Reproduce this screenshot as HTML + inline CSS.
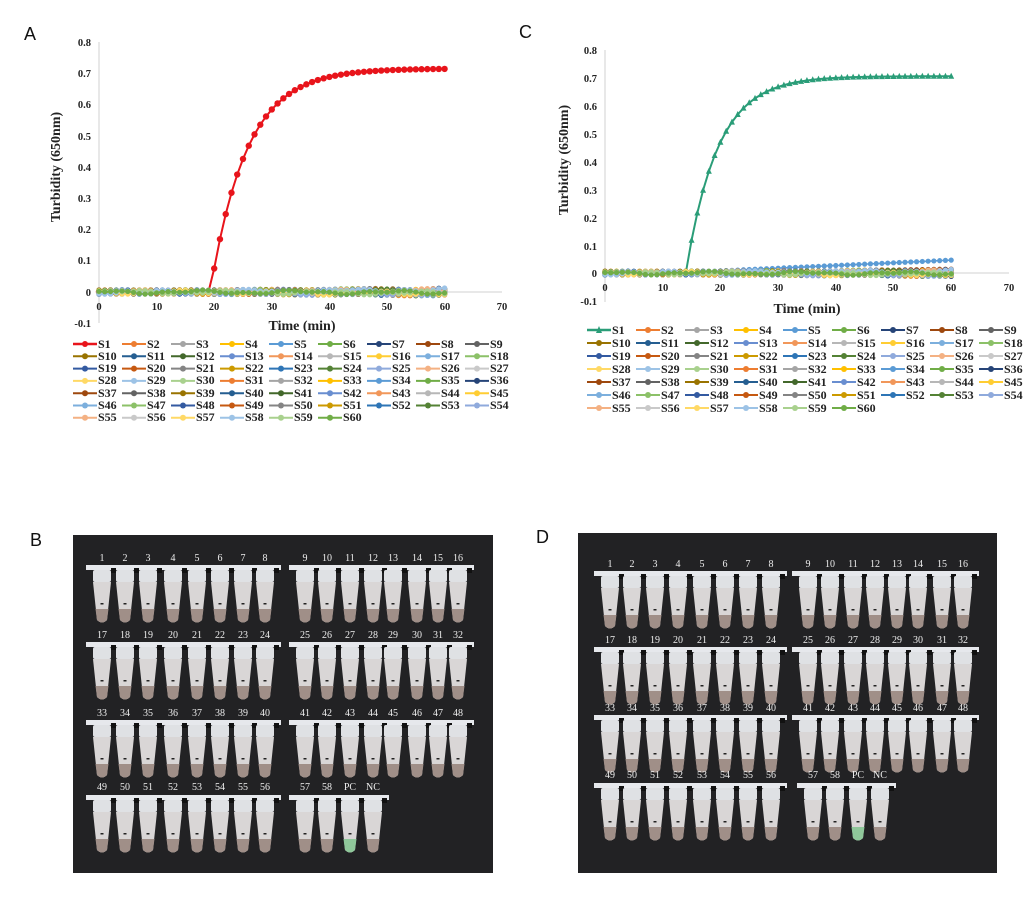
<!DOCTYPE html>
<html><head><meta charset="utf-8"><style>
body{margin:0;background:#fff}
svg{display:block}
.t{font-family:"Liberation Serif",serif;font-weight:bold;font-size:10.5px;fill:#222}
.lg{font-family:"Liberation Serif",serif;font-weight:bold;font-size:12px;fill:#222}
.pl{font-family:"Liberation Sans",sans-serif;font-size:18px;fill:#111}
.tn{font-family:"Liberation Serif",serif;font-size:10px;fill:#eee}
</style></head><body>
<svg id="s" width="1024" height="904" xmlns="http://www.w3.org/2000/svg">
<rect width="1024" height="904" fill="#fff"/>
<text class="pl" x="24" y="40">A</text>
<text class="pl" x="519" y="38">C</text>
<text class="pl" x="30" y="546">B</text>
<text class="pl" x="536" y="543">D</text>

<g stroke="#d0d0d0" stroke-width="1"><line x1="99" y1="42" x2="99" y2="323"/><line x1="99" y1="292" x2="502" y2="292"/></g>
<g class="t" text-anchor="end">
<text x="91" y="46">0.8</text><text x="91" y="77">0.7</text><text x="91" y="108">0.6</text><text x="91" y="140">0.5</text><text x="91" y="171">0.4</text><text x="91" y="202">0.3</text><text x="91" y="233">0.2</text><text x="91" y="264">0.1</text><text x="91" y="296">0</text><text x="91" y="327">-0.1</text></g>
<g class="t" text-anchor="middle">
<text x="99" y="310">0</text><text x="157" y="310">10</text><text x="214" y="310">20</text><text x="272" y="310">30</text><text x="330" y="310">40</text><text x="387" y="310">50</text><text x="445" y="310">60</text><text x="502" y="310">70</text></g>
<text class="t" style="font-size:14px" x="302" y="330" text-anchor="middle">Time (min)</text>
<text class="t" style="font-size:14px" transform="translate(60,167) rotate(-90)" text-anchor="middle">Turbidity (650nm)</text>

<g stroke="#d0d0d0" stroke-width="1"><line x1="605" y1="50" x2="605" y2="302"/><line x1="605" y1="273" x2="1009" y2="273"/></g>
<g class="t" text-anchor="end">
<text x="597" y="54">0.8</text><text x="597" y="82">0.7</text><text x="597" y="110">0.6</text><text x="597" y="138">0.5</text><text x="597" y="166">0.4</text><text x="597" y="194">0.3</text><text x="597" y="222">0.2</text><text x="597" y="250">0.1</text><text x="597" y="277">0</text><text x="597" y="305">-0.1</text></g>
<g class="t" text-anchor="middle">
<text x="605" y="291">0</text><text x="663" y="291">10</text><text x="720" y="291">20</text><text x="778" y="291">30</text><text x="836" y="291">40</text><text x="893" y="291">50</text><text x="951" y="291">60</text><text x="1009" y="291">70</text></g>
<text class="t" style="font-size:14px" x="807" y="313" text-anchor="middle">Time (min)</text>
<text class="t" style="font-size:14px" transform="translate(568,160) rotate(-90)" text-anchor="middle">Turbidity (650nm)</text>

<g id="curves"></g>
<g id="legmk"></g>

<g class="lg">
<text x="98" y="348">S1</text><text x="147" y="348">S2</text><text x="196" y="348">S3</text><text x="245" y="348">S4</text><text x="294" y="348">S5</text><text x="343" y="348">S6</text><text x="392" y="348">S7</text><text x="441" y="348">S8</text><text x="490" y="348">S9</text>
<text x="98" y="360">S10</text><text x="147" y="360">S11</text><text x="196" y="360">S12</text><text x="245" y="360">S13</text><text x="294" y="360">S14</text><text x="343" y="360">S15</text><text x="392" y="360">S16</text><text x="441" y="360">S17</text><text x="490" y="360">S18</text>
<text x="98" y="372">S19</text><text x="147" y="372">S20</text><text x="196" y="372">S21</text><text x="245" y="372">S22</text><text x="294" y="372">S23</text><text x="343" y="372">S24</text><text x="392" y="372">S25</text><text x="441" y="372">S26</text><text x="490" y="372">S27</text>
<text x="98" y="384">S28</text><text x="147" y="384">S29</text><text x="196" y="384">S30</text><text x="245" y="384">S31</text><text x="294" y="384">S32</text><text x="343" y="384">S33</text><text x="392" y="384">S34</text><text x="441" y="384">S35</text><text x="490" y="384">S36</text>
<text x="98" y="397">S37</text><text x="147" y="397">S38</text><text x="196" y="397">S39</text><text x="245" y="397">S40</text><text x="294" y="397">S41</text><text x="343" y="397">S42</text><text x="392" y="397">S43</text><text x="441" y="397">S44</text><text x="490" y="397">S45</text>
<text x="98" y="409">S46</text><text x="147" y="409">S47</text><text x="196" y="409">S48</text><text x="245" y="409">S49</text><text x="294" y="409">S50</text><text x="343" y="409">S51</text><text x="392" y="409">S52</text><text x="441" y="409">S53</text><text x="490" y="409">S54</text>
<text x="98" y="421">S55</text><text x="147" y="421">S56</text><text x="196" y="421">S57</text><text x="245" y="421">S58</text><text x="294" y="421">S59</text><text x="343" y="421">S60</text>
</g>
<g class="lg">
<text x="612" y="334">S1</text><text x="661" y="334">S2</text><text x="710" y="334">S3</text><text x="759" y="334">S4</text><text x="808" y="334">S5</text><text x="857" y="334">S6</text><text x="906" y="334">S7</text><text x="955" y="334">S8</text><text x="1004" y="334">S9</text>
<text x="612" y="347">S10</text><text x="661" y="347">S11</text><text x="710" y="347">S12</text><text x="759" y="347">S13</text><text x="808" y="347">S14</text><text x="857" y="347">S15</text><text x="906" y="347">S16</text><text x="955" y="347">S17</text><text x="1004" y="347">S18</text>
<text x="612" y="360">S19</text><text x="661" y="360">S20</text><text x="710" y="360">S21</text><text x="759" y="360">S22</text><text x="808" y="360">S23</text><text x="857" y="360">S24</text><text x="906" y="360">S25</text><text x="955" y="360">S26</text><text x="1004" y="360">S27</text>
<text x="612" y="373">S28</text><text x="661" y="373">S29</text><text x="710" y="373">S30</text><text x="759" y="373">S31</text><text x="808" y="373">S32</text><text x="857" y="373">S33</text><text x="906" y="373">S34</text><text x="955" y="373">S35</text><text x="1004" y="373">S36</text>
<text x="612" y="386">S37</text><text x="661" y="386">S38</text><text x="710" y="386">S39</text><text x="759" y="386">S40</text><text x="808" y="386">S41</text><text x="857" y="386">S42</text><text x="906" y="386">S43</text><text x="955" y="386">S44</text><text x="1004" y="386">S45</text>
<text x="612" y="399">S46</text><text x="661" y="399">S47</text><text x="710" y="399">S48</text><text x="759" y="399">S49</text><text x="808" y="399">S50</text><text x="857" y="399">S51</text><text x="906" y="399">S52</text><text x="955" y="399">S53</text><text x="1004" y="399">S54</text>
<text x="612" y="412">S55</text><text x="661" y="412">S56</text><text x="710" y="412">S57</text><text x="759" y="412">S58</text><text x="808" y="412">S59</text><text x="857" y="412">S60</text>
</g>

<rect x="73" y="535" width="420" height="338" fill="#222224"/>
<rect x="578" y="533" width="419" height="340" fill="#222224"/>
<g id="tubes"></g>
<g class="tn" text-anchor="middle">
<text x="102" y="561">1</text><text x="125" y="561">2</text><text x="148" y="561">3</text><text x="173" y="561">4</text><text x="197" y="561">5</text><text x="220" y="561">6</text><text x="243" y="561">7</text><text x="265" y="561">8</text>
<text x="305" y="561">9</text><text x="327" y="561">10</text><text x="350" y="561">11</text><text x="373" y="561">12</text><text x="393" y="561">13</text><text x="417" y="561">14</text><text x="438" y="561">15</text><text x="458" y="561">16</text>
<text x="102" y="638">17</text><text x="125" y="638">18</text><text x="148" y="638">19</text><text x="173" y="638">20</text><text x="197" y="638">21</text><text x="220" y="638">22</text><text x="243" y="638">23</text><text x="265" y="638">24</text>
<text x="305" y="638">25</text><text x="327" y="638">26</text><text x="350" y="638">27</text><text x="373" y="638">28</text><text x="393" y="638">29</text><text x="417" y="638">30</text><text x="438" y="638">31</text><text x="458" y="638">32</text>
<text x="102" y="716">33</text><text x="125" y="716">34</text><text x="148" y="716">35</text><text x="173" y="716">36</text><text x="197" y="716">37</text><text x="220" y="716">38</text><text x="243" y="716">39</text><text x="265" y="716">40</text>
<text x="305" y="716">41</text><text x="327" y="716">42</text><text x="350" y="716">43</text><text x="373" y="716">44</text><text x="393" y="716">45</text><text x="417" y="716">46</text><text x="438" y="716">47</text><text x="458" y="716">48</text>
<text x="102" y="790">49</text><text x="125" y="790">50</text><text x="148" y="790">51</text><text x="173" y="790">52</text><text x="197" y="790">53</text><text x="220" y="790">54</text><text x="243" y="790">55</text><text x="265" y="790">56</text>
<text x="305" y="790">57</text><text x="327" y="790">58</text><text x="350" y="790">PC</text><text x="373" y="790">NC</text>

<text x="610" y="567">1</text><text x="632" y="567">2</text><text x="655" y="567">3</text><text x="678" y="567">4</text><text x="702" y="567">5</text><text x="725" y="567">6</text><text x="748" y="567">7</text><text x="771" y="567">8</text>
<text x="808" y="567">9</text><text x="830" y="567">10</text><text x="853" y="567">11</text><text x="875" y="567">12</text><text x="897" y="567">13</text><text x="918" y="567">14</text><text x="942" y="567">15</text><text x="963" y="567">16</text>
<text x="610" y="643">17</text><text x="632" y="643">18</text><text x="655" y="643">19</text><text x="678" y="643">20</text><text x="702" y="643">21</text><text x="725" y="643">22</text><text x="748" y="643">23</text><text x="771" y="643">24</text>
<text x="808" y="643">25</text><text x="830" y="643">26</text><text x="853" y="643">27</text><text x="875" y="643">28</text><text x="897" y="643">29</text><text x="918" y="643">30</text><text x="942" y="643">31</text><text x="963" y="643">32</text>
<text x="610" y="711">33</text><text x="632" y="711">34</text><text x="655" y="711">35</text><text x="678" y="711">36</text><text x="702" y="711">37</text><text x="725" y="711">38</text><text x="748" y="711">39</text><text x="771" y="711">40</text>
<text x="808" y="711">41</text><text x="830" y="711">42</text><text x="853" y="711">43</text><text x="875" y="711">44</text><text x="897" y="711">45</text><text x="918" y="711">46</text><text x="942" y="711">47</text><text x="963" y="711">48</text>
<text x="610" y="778">49</text><text x="632" y="778">50</text><text x="655" y="778">51</text><text x="678" y="778">52</text><text x="702" y="778">53</text><text x="725" y="778">54</text><text x="748" y="778">55</text><text x="771" y="778">56</text>
<text x="813" y="778">57</text><text x="835" y="778">58</text><text x="858" y="778">PC</text><text x="880" y="778">NC</text>
</g>
</svg>
<script>
(function(){
var NS="http://www.w3.org/2000/svg";
function el(p,t,a){var e=document.createElementNS(NS,t);for(var k in a)e.setAttribute(k,a[k]);p.appendChild(e);return e;}
var pal=["#ED7D31","#A5A5A5","#FFC000","#5B9BD5","#70AD47","#264478","#9E480E","#636363","#997300","#255E91","#43682B","#698ED0","#F1975A","#B7B7B7","#FFCD33","#7CAFDD","#8CC168","#335AA1","#C65911","#848484","#CC9A00","#2E75B6","#548235","#8FAADC","#F4B183","#C9C9C9","#FFD966","#9DC3E6","#A9D18E"];
function col(i){return i==60?"#70AD47":pal[(i-2)%pal.length];}
var cv=document.getElementById("curves"), lm=document.getElementById("legmk");
function chart(x0,y0,px10,py01,main,mcol,tri,extra){
  var X=function(t){return x0+t*px10/10}, Y=function(v){return y0-v*py01/0.1};
  var pts=[];
  for(var t=0;t<=60;t++)pts.push([X(t),Y(main(t))]);
  el(cv,"polyline",{points:pts.map(function(p){return p.join(",")}).join(" "),fill:"none",stroke:mcol,"stroke-width":2});
  pts.forEach(function(p){ if(tri)el(cv,"polygon",{points:(p[0]-3)+","+(p[1]+2.5)+" "+(p[0]+3)+","+(p[1]+2.5)+" "+p[0]+","+(p[1]-3.5),fill:mcol});
    else el(cv,"circle",{cx:p[0],cy:p[1],r:3.2,fill:mcol});});
  for(var s=2;s<=60;s++){
    var c=col(s),q=[];
    for(var t=0;t<=60;t++){var v=0.004*Math.sin(t*0.37+s*1.7)+0.003*Math.sin(t*0.9+s*3.1);
      if(t>10)v+=0.006*Math.sin(s*2.3)*(t-10)/50;
      if(extra&&extra[s])v=extra[s](t);
      q.push([X(t),Y(v)]);}
    el(cv,"polyline",{points:q.map(function(p){return p.join(",")}).join(" "),fill:"none",stroke:c,"stroke-width":1.5});
    q.forEach(function(p){el(cv,"circle",{cx:p[0],cy:p[1],r:2.6,fill:c});});
  }
}
chart(99,292,57.6,31.25,function(t){if(t<19.5)return 0;var v=0.715*(1-Math.exp(-(t-19.3)/6.3));return Math.max(0,v);},"#E8141B",false);
chart(605,273,57.7,28,function(t){if(t<14)return 0;return 0.703*(1-Math.exp(-(t-14)/5.5));},"#2A9D78",true,
 {5:function(t){return t<12?0:0.046*(t-12)/48},8:function(t){return t<20?0:0.014*(t-20)/40},7:function(t){return t<30?0:-0.012*(t-30)/30}});
function legend(x0,y0,dy,first,tri){
  for(var i=0;i<60;i++){var r=Math.floor(i/9),c=i%9,x=x0+c*49,y=y0+r*dy;
    var co=i==0?first:col(i+1);
    el(lm,"line",{x1:x,y1:y,x2:x+24,y2:y,stroke:co,"stroke-width":i==0?2.5:2});
    if(i==0&&tri)el(lm,"polygon",{points:(x+9)+","+(y+3)+" "+(x+15)+","+(y+3)+" "+(x+12)+","+(y-4),fill:co});
    else el(lm,"circle",{cx:x+12,cy:y,r:3,fill:co});}
}
legend(73,344,12.3,"#E8141B",false);
legend(587,330,13,"#2A9D78",true);
var tg=document.getElementById("tubes");
function strip(xs,ytop,pcIdx){
  var x1=xs[0]-16,x2=xs[xs.length-1]+16;
  el(tg,"rect",{x:x1,y:ytop,width:x2-x1,height:5,fill:"#e6e8ec"});
  xs.forEach(function(x,i){
    el(tg,"rect",{x:x-9,y:ytop+5,width:18,height:12,rx:2,fill:"#dfe1e4"});
    el(tg,"rect",{x:x+9,y:ytop+3,width:5,height:5,fill:"#111"});
    el(tg,"path",{d:"M"+(x-9)+" "+(ytop+17)+" L"+(x+9)+" "+(ytop+17)+" L"+(x+5)+" "+(ytop+55)+" Q"+x+" "+(ytop+60)+" "+(x-5)+" "+(ytop+55)+" Z",fill:"#d9d6d6"});
    el(tg,"path",{d:"M"+(x-6.5)+" "+(ytop+44)+" L"+(x+6.5)+" "+(ytop+44)+" L"+(x+5)+" "+(ytop+55)+" Q"+x+" "+(ytop+60)+" "+(x-5)+" "+(ytop+55)+" Z",fill:i===pcIdx?"#8fc79a":"#a08f88"});
    el(tg,"rect",{x:x-1.5,y:ytop+38,width:3,height:1.5,fill:"#222"});
  });
}
var bl=[102,125,148,173,197,220,243,265],br=[305,327,350,373,393,417,438,458];
[565,642,720,795].forEach(function(y,r){strip(bl,y);strip(r==3?br.slice(0,4):br,y,r==3?2:-1);});
var dl=[610,632,655,678,702,725,748,771],dr=[808,830,853,875,897,918,942,963];
[571,647,715,783].forEach(function(y,r){strip(dl,y);strip(r==3?[813,835,858,880]:dr,y,r==3?2:-1);});
})();
</script>
</body></html>
